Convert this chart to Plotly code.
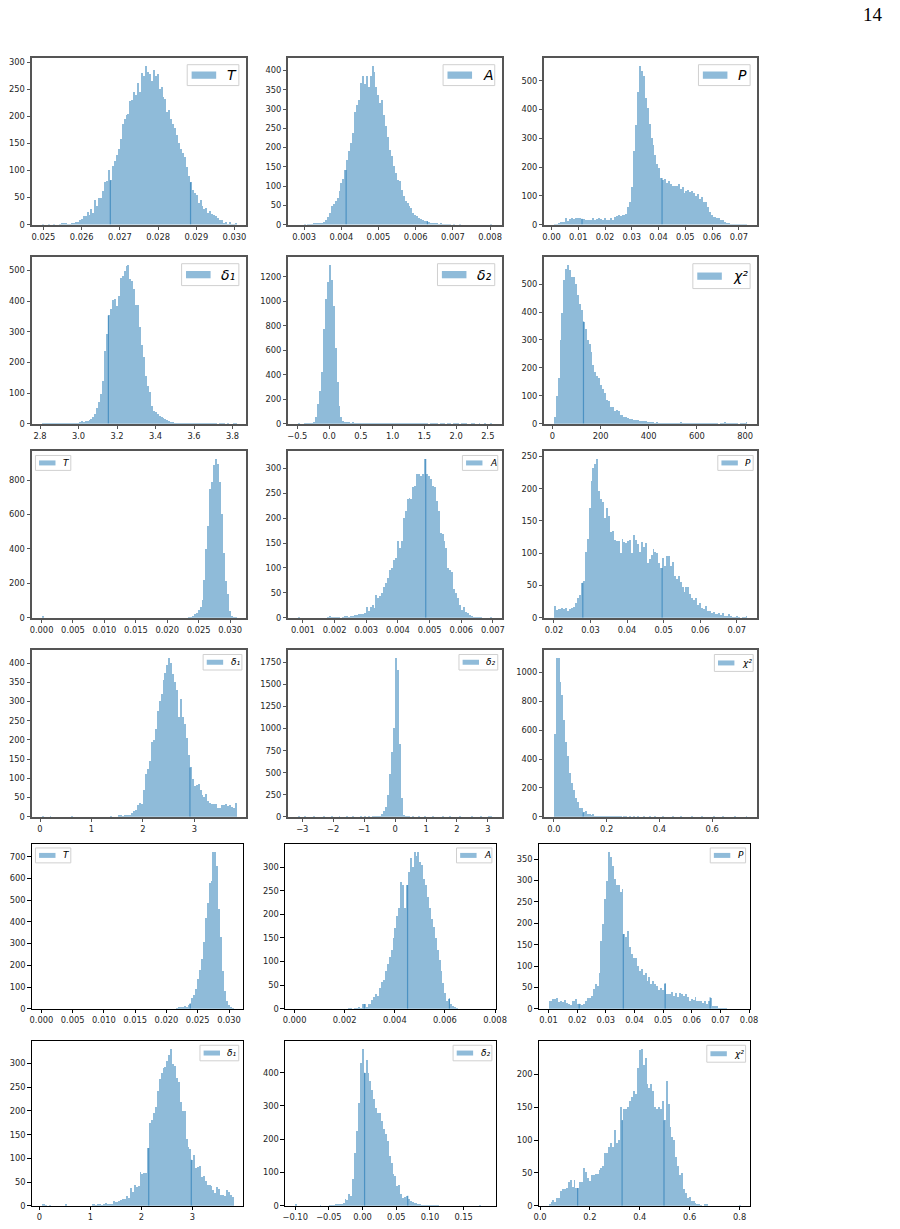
import plotly.graph_objects as go

W, H = 900, 1229

# ------------------------------------------------------------------ data
# counts per histogram bin, (first edge, last edge), marker-line positions
r1_T_counts = [1,0,0,1,0,0,1,0,0,1, 3,3,3,2,2,3,3,4,5,8, 10,16,16,24,17,28,22,45,35,49,
               50,62,78,80,100,82,108,118,128,140, 158,185,195,202,205,228,230,245,240,262,
               245,280,275,293,282,278,265,285,275,278, 250,255,236,232,208,212,195,185,178,165,
               150,140,132,124,106,89,78,64,58,55, 40,45,35,28,30,22,25,20,18,16, 12,8,8,3,5,2,4,2,2,3]
r1_T_span = (0.02495, 0.03005)
r1_T_marks = [0.02675, 0.02885]

r1_A_counts = [0,0,0,1,0,1,1,2,3,3,4,5,4,8, 12,20,29,47,53,60,68,86,109,118,
               142,168,192,211,237,293,311,324,367,386, 365,386,358,386,412,395,358,337,315,324,
               285,255,227,194,177,151,133,116,112,90, 73,60,57,47,42,29,25,22,16,14, 12,10,9,7,5,5,3,
               3,2,3,2,1,1,1,1,0,1, 0,0,1,0,0,0,0,0,0,0, 0,0,0,0,0,0,0,0,1]
r1_A_span = (0.002833, 0.00806)
r1_A_marks = [0.00413, 0.006316]

r1_P_counts = [1,3,5,8,9, 10,22,14,18,22, 18,22,22,22,20, 20,16,17,16,17, 22,16,20,22,18,
               17,22,17,16,22, 17,28,30,32,30, 33,35,36,60,80, 130,255,345,460,551, 535,515,440,405,350,
               300,275,240,210,195, 162, 155,160,145,150,140, 135,135,135,140,125, 130,110,115,120,112,
               115,108,100,105,90, 95,78,80,60,42, 35,28,25,22,24, 15,16,8,5,7, 3,2,1,1,2,1,1,1,1]
r1_P_span = (0.0009, 0.0733)
r1_P_marks = [0.0114, 0.0413]

r2_d1_counts = [2,1,1,1,2,2,1,2,1,2,2,1,2,3,2,2,2,3,2,5, 8,6,10,10,12,
                15,20,32,50,70,97,140,238,293,353, 375,402,407,385,418,475,483,497,516,518,
                473,467,440,386,386,315,255,217,157,124, 102,59,42,37,32,26,21,17,15,13,10,6,4,
                3,2,2,1,2,1,2,1,1,2, 1,1,1,2,1,1,1,1,2,1, 1,1,0,1,1,1,0,1,0,0, 1,1]
r2_d1_span = (2.808, 3.82)
r2_d1_marks = [3.155]

r2_d2_counts = [1,0,0,1,2,3,5,8, 16,52,160,270,420,775,1020,1156,1298,1178,965,616,338,147,52,25,
                14,12,10,8,10,8,6,7,5,6,5,
                4,5,3,4,3,4,3,2,3,3, 2,3,2,2,3,2,2,1,2,2, 1,2,1,1,2,1,1,1,2,1,
                1,1,0,1,1,2,1,0,1,1, 1,0,1,1,0,1,1,1,0,1, 2,1,0,0,1,1,0,0,1,0, 0,1,0,0,1]
r2_d2_span = (-0.491, 2.569)
r2_d2_marks = []

r2_chi_counts = [22,100,165,300,395,515,555,569,550,527, 527,500,462,430,408,366,340,300,285,255,
                 210,185,170,165,140,125,110,85,80,60, 58,45,50,45,30,30,25,22,20,15,
                 18,12,14,12,11,10,8,8,6,5, 7,4,
                 3,4,3,2,3,2,3,3,2,2, 3,2,2,5,2,2,1,2,2,1, 2,1,1,3,1,2,2,1,1,1,
                 1,1,1,0,1,1,4,3,1,1, 1,1,1,0,1,3,2,4]
r2_chi_span = (6.3, 811.0)
r2_chi_marks = [129.0]

r3_T_counts = [12] + [0] * 74 + [2,5,10,18,28,45,60,100,220,400,535,745,790,885,922,895,790,600,
                                 375,210,135,40,12,5,2]
r3_T_span = (0.0, 0.031)
r3_T_marks = []

r3_A_counts = [1] + [0] * 14 + [2,3,2,2,2,1,2,0,2,3, 3,2,4,3,6,5,8,7,8,10, 22,13,22,26,20,45,40,44,50,62,
               70,80,95,100,115,120,155,140,155,200, 215,238,240,238,262,265,288,288,285,288,
               319,288,285,278,265,262,235,215,170,168, 155,140,100,95,92,58,50,40,25,15,
               22,12,10,6,3,2,1,1,2,1] + [0,0,0,0,1]
r3_A_span = (0.00084, 0.00698)
r3_A_marks = [0.004878]

r3_P_counts = [18,12,13,14,15,13,15,10,14,15,16,22,30,35,54,57,
               102,122,170,212,232,238,246,196,184,180,155,170,157,133,135,120,
               119,118,100,122,117,116,118,121,100,128,120,114,101,117,110,115,
               85,91,97,107,101,100,85,77,
               92,80,95,95,80,86,65,60,64,55,48,40,48,47,37,30,
               28,30,20,22,15,13,18,10,10,7,8,5,5,7,4,7,
               3,2,5,2,1,1,2,1,0,1,1,2]
r3_P_span = (0.02, 0.073)
r3_P_marks = [0.0279, 0.0496]

r4_d1_counts = [1,0,0,0,1,0,0,0,0,0, 0,0,0,0,0,1,0,0,0,0, 0,0,0,0,0,0,0,0,0,0,
                0,0,0,0,0,1,0,0,0,3, 4,2,4,3,4,4,
                10,15,18,30,36,33,70,110,125,145, 195,200,228,275,300,320,355,375,395,413,
                400,370,350,330,260,305,258,240,205,160, 128,98,80,82,85,70,55,50,60,40,
                35,34,32,32,22,22,30,30,32,28, 30,24,22,35]
r4_d1_span = (0.03, 3.818)
r4_d1_marks = [2.915]

r4_d2_counts = [2,0,0,1,0,0,0,0,1,0, 0,0,0,1,0,0,0,1,0,0, 0,1,0,0,0,1,0,0,1,0,
                0,0,1,0,1,0,1,0,1,1, 2,3,8,
                25,60,110,240,480,730,1000,1800,1660,820,215,15,
                3,1,1,0,1,0,0,1,0,0, 1,0,0,0,1,0,0,0,0,1, 0,0,0,1,0,0,0,0,1,0,
                0,0,0,0,1,0,0,0,0,1, 0,0,0,1,2]
r4_d2_span = (-3.14159, 3.14159)
r4_d2_marks = []

r4_chi_counts = [575,1100,1100,930,840,670,515,420,305,235, 185,130,100,60,60,30,38,18,18,12, 15,5,
                 4,3,3,2,2,2,1,2,1,1, 1,1,1,0,1,1,0,1,0,1, 0,1,0,0,1,0,0,1,0,0,
                 1,0,0,0,1,0,0,0,0,1, 0,0,0,1,0,0,0,0,0,1, 0,0,0,0,1,0,0,0,0,0,
                 1,0,0,0,0,1,0,0,0,0, 0,1,0,0,0,0,0,1]
r4_chi_span = (0.0, 0.7345)
r4_chi_marks = [0.111]

r5_T_counts = [0] * 66 + [1,2,2,3,5,8,10,12,15,10,20,25,50,65,95,140,180,230,310,420,490,580,590,
                          724,724,660,460,330,175,85,40,20,10,4]
r5_T_span = (0.0, 0.0307)
r5_T_marks = [0.0238]

r5_A_counts = [1] + [0] * 27 + [3,3,1,3,3,5,3,12,10,5, 10,12,20,25,33,28,45,57,62,80,
               95,110,125,150,172,198,215,270,262,215, 262,290,320,300,333,325,333,312,305,275,
               262,238,215,190,175,150,125,105,80,55, 35,18,22,12,7,5,2] + \
              [1,0,0,0,1,0,0,0,0,0,0,0,0,0,1]
r5_A_span = (0.0, 0.00766)
r5_A_marks = [0.002784, 0.00451, 0.00618]

r5_P_counts = [20,20,25,25,27,17,20,17,22,15,13,10,20,20,25,12,12,
               10,13,20,27,27,32,48,58,55,
               85,160,200,258,300,368,355,335,305,290,290,275,282,175,
               170,183,145,130,120,120,100,90,95,80,
               85,65,75,60,65,60,55,45,50,45,
               60,35,35,35,40,30,38,28,38,35,
               30,35,28,20,25,22,28,20,18,20,
               15,20,12,18,27,8,8,8,3,3,
               3,3,3,0,0,0,0,0,0,1]
r5_P_span = (0.0099, 0.0769)
r5_P_marks = [0.0207, 0.0361, 0.0507, 0.0664]

r6_d1_counts = [3,3,1,0,1,0,0,0,0,0, 0,0,3,0,0,0,0,0,0,0, 0,0,0,0,0,0,3,3,2,3, 3,2,3,6,4,5,5,
                10,8,8,10,12,14,14,20,16,38,30,43,40,42,72,68,70,70,
                122,175,182,195,208,242,268,280,290,293,305,318,331,300,295,270,262,218,200,200,
                140,125,120,97,108,80,82,85,60,62,52,43,45,42,33,28,40,35,24,24,20,34,30,22,18]
r6_d1_span = (0.04, 3.806)
r6_d1_marks = [2.145, 2.980]

r6_d2_counts = [7,0,0,0,0,0,0,0,0,0,0,0,0,3,0,0,1,0,3,2,4,5,5,5,6,
                10,20,18,35,30,80,160,225,310,430,472,400,
                440,400,375,348,320,295,280,278,255,230,215,195,150,130,
                95,90,60,62,35,25,28,30,22,15,
                12,8,8,5,5,4,3,3,4,2, 3,4,4,2,0,1,0,0,1,0, 1,1,0,1,0,1,0,0,1,0,
                1,0,0,0,0,3,0,0,1]
r6_d2_span = (-0.101, 0.184)
r6_d2_marks = [0.003, 0.0671]

r6_chi_counts = [3,6,9,6,12,12,23,25,26,27,37,39,28,40,27,27,36,36,57,52,42,38,47,47,48,48,55,57,
                 60,80,80,90,95,90,115,95,
                 100,150,130,148,148,150,160,165,175,170,210,237,239,215,225,185,180,185,175,150,
                 148,150,148,160,130,190,155,120,105,100,75,60,47,50,25,20,12,13,8,7,5,3,3,1,0,3,3] + \
                [0] * 16 + [1]
r6_chi_span = (0.033, 0.8025)
r6_chi_marks = [0.1508, 0.329, 0.497]

# tick values / labels
xt_T1 = [0.025, 0.026, 0.027, 0.028, 0.029, 0.030]
xl_T1 = ["0.025", "0.026", "0.027", "0.028", "0.029", "0.030"]
xt_A1 = [0.003, 0.004, 0.005, 0.006, 0.007, 0.008]
xl_A1 = ["0.003", "0.004", "0.005", "0.006", "0.007", "0.008"]
xt_P1 = [0.0, 0.01, 0.02, 0.03, 0.04, 0.05, 0.06, 0.07]
xl_P1 = ["0.00", "0.01", "0.02", "0.03", "0.04", "0.05", "0.06", "0.07"]
xt_d1a = [2.8, 3.0, 3.2, 3.4, 3.6, 3.8]
xl_d1a = ["2.8", "3.0", "3.2", "3.4", "3.6", "3.8"]
xt_d2a = [-0.5, 0.0, 0.5, 1.0, 1.5, 2.0, 2.5]
xl_d2a = ["\u22120.5", "0.0", "0.5", "1.0", "1.5", "2.0", "2.5"]
xt_chia = [0, 200, 400, 600, 800]
xl_chia = ["0", "200", "400", "600", "800"]
xt_T2 = [0.0, 0.005, 0.010, 0.015, 0.020, 0.025, 0.030]
xl_T2 = ["0.000", "0.005", "0.010", "0.015", "0.020", "0.025", "0.030"]
xt_A3 = [0.001, 0.002, 0.003, 0.004, 0.005, 0.006, 0.007]
xl_A3 = ["0.001", "0.002", "0.003", "0.004", "0.005", "0.006", "0.007"]
xt_P3 = [0.02, 0.03, 0.04, 0.05, 0.06, 0.07]
xl_P3 = ["0.02", "0.03", "0.04", "0.05", "0.06", "0.07"]
xt_d1b = [0, 1, 2, 3]
xl_d1b = ["0", "1", "2", "3"]
xt_d2b = [-3, -2, -1, 0, 1, 2, 3]
xl_d2b = ["\u22123", "\u22122", "\u22121", "0", "1", "2", "3"]
xt_chib = [0.0, 0.2, 0.4, 0.6]
xl_chib = ["0.0", "0.2", "0.4", "0.6"]
xt_A5 = [0.0, 0.002, 0.004, 0.006, 0.008]
xl_A5 = ["0.000", "0.002", "0.004", "0.006", "0.008"]
xt_P5 = [0.01, 0.02, 0.03, 0.04, 0.05, 0.06, 0.07, 0.08]
xl_P5 = ["0.01", "0.02", "0.03", "0.04", "0.05", "0.06", "0.07", "0.08"]
xt_d2c = [-0.10, -0.05, 0.0, 0.05, 0.10, 0.15]
xl_d2c = ["\u22120.10", "\u22120.05", "0.00", "0.05", "0.10", "0.15"]
xt_chic = [0.0, 0.2, 0.4, 0.6, 0.8]
xl_chic = ["0.0", "0.2", "0.4", "0.6", "0.8"]

yt_r1_T = [0, 50, 100, 150, 200, 250, 300]
yt_r1_A = [0, 50, 100, 150, 200, 250, 300, 350, 400]
yt_r1_P = [0, 100, 200, 300, 400, 500]
yt_r2_d1 = [0, 100, 200, 300, 400, 500]
yt_r2_d2 = [0, 200, 400, 600, 800, 1000, 1200]
yt_r2_chi = [0, 100, 200, 300, 400, 500]
yt_r3_T = [0, 200, 400, 600, 800]
yt_r3_A = [0, 50, 100, 150, 200, 250, 300]
yt_r3_P = [0, 50, 100, 150, 200, 250]
yt_r4_d1 = [0, 50, 100, 150, 200, 250, 300, 350, 400]
yt_r4_d2 = [0, 250, 500, 750, 1000, 1250, 1500, 1750]
yt_r4_chi = [0, 200, 400, 600, 800, 1000]
yt_r5_T = [0, 100, 200, 300, 400, 500, 600, 700]
yt_r5_A = [0, 50, 100, 150, 200, 250, 300]
yt_r5_P = [0, 50, 100, 150, 200, 250, 300, 350]
yt_r6_d1 = [0, 50, 100, 150, 200, 250, 300]
yt_r6_d2 = [0, 100, 200, 300, 400]
yt_r6_chi = [0, 50, 100, 150, 200]

lab_T = "T"
lab_A = "A"
lab_P = "P"
lab_d1 = "δ₁"
lab_d2 = "δ₂"
lab_chi = "χ²"

panels = [
    (r1_T_counts, r1_T_span, r1_T_marks, xt_T1, xl_T1, yt_r1_T, lab_T, "T"),
    (r1_A_counts, r1_A_span, r1_A_marks, xt_A1, xl_A1, yt_r1_A, lab_A, "T"),
    (r1_P_counts, r1_P_span, r1_P_marks, xt_P1, xl_P1, yt_r1_P, lab_P, "T"),
    (r2_d1_counts, r2_d1_span, r2_d1_marks, xt_d1a, xl_d1a, yt_r2_d1, lab_d1, "d"),
    (r2_d2_counts, r2_d2_span, r2_d2_marks, xt_d2a, xl_d2a, yt_r2_d2, lab_d2, "d"),
    (r2_chi_counts, r2_chi_span, r2_chi_marks, xt_chia, xl_chia, yt_r2_chi, lab_chi, "c"),
    (r3_T_counts, r3_T_span, r3_T_marks, xt_T2, xl_T2, yt_r3_T, lab_T, "T"),
    (r3_A_counts, r3_A_span, r3_A_marks, xt_A3, xl_A3, yt_r3_A, lab_A, "T"),
    (r3_P_counts, r3_P_span, r3_P_marks, xt_P3, xl_P3, yt_r3_P, lab_P, "T"),
    (r4_d1_counts, r4_d1_span, r4_d1_marks, xt_d1b, xl_d1b, yt_r4_d1, lab_d1, "d"),
    (r4_d2_counts, r4_d2_span, r4_d2_marks, xt_d2b, xl_d2b, yt_r4_d2, lab_d2, "d"),
    (r4_chi_counts, r4_chi_span, r4_chi_marks, xt_chib, xl_chib, yt_r4_chi, lab_chi, "c"),
    (r5_T_counts, r5_T_span, r5_T_marks, xt_T2, xl_T2, yt_r5_T, lab_T, "T"),
    (r5_A_counts, r5_A_span, r5_A_marks, xt_A5, xl_A5, yt_r5_A, lab_A, "T"),
    (r5_P_counts, r5_P_span, r5_P_marks, xt_P5, xl_P5, yt_r5_P, lab_P, "T"),
    (r6_d1_counts, r6_d1_span, r6_d1_marks, xt_d1b, xl_d1b, yt_r6_d1, lab_d1, "d"),
    (r6_d2_counts, r6_d2_span, r6_d2_marks, xt_d2c, xl_d2c, yt_r6_d2, lab_d2, "d"),
    (r6_chi_counts, r6_chi_span, r6_chi_marks, xt_chic, xl_chic, yt_r6_chi, lab_chi, "c"),
]

# ------------------------------------------------------------------ layout (pixels)
rows_px = [(57.3, 224.7), (257.3, 424.7), (452.3, 619.7), (652.3, 819.7), (846.7, 1012.7), (1045.0, 1210.7)]
cols_a = [(27.3, 245.5), (288.3, 506.0), (549.0, 766.0)]
cols_b = [(27.3, 242.3), (285.0, 500.0), (543.3, 758.3)]

BAR = "rgba(31,119,180,0.5)"
MARK = "rgba(31,119,180,0.6)"
FONT = "DejaVu Sans"

fig = go.Figure()
shapes, annotations = [], []


def px_x(v):
    return v / W


def px_y(v):
    return 1 - v / H


for k, (counts, span, marks, xt, xl, yt, lab, kind) in enumerate(panels):
    r, c = divmod(k, 3)
    top, bot = rows_px[r]
    left, right = (cols_a if r < 4 else cols_b)[c]
    frame = ("#555555", 1.5) if r < 4 else ("#000000", 1.0)
    n = len(counts)
    lo, hi = span
    w = (hi - lo) / n
    centers = [lo + w * (i + 0.5) for i in range(n)]
    sfx = "" if k == 0 else str(k + 1)

    fig.add_trace(go.Bar(x=centers, y=counts, width=w, marker=dict(color=BAR, line=dict(width=0)),
                         xaxis="x" + sfx, yaxis="y" + sfx, hoverinfo="skip", showlegend=False))
    if marks:
        mx, my = [], []
        for m in marks:
            idx = min(max(int((m - lo) / w), 0), n - 1)
            mx += [m, m, None]
            my += [0, counts[idx], None]
        fig.add_trace(go.Scatter(x=mx, y=my, mode="lines", line=dict(color=MARK, width=1.2),
                                 xaxis="x" + sfx, yaxis="y" + sfx, hoverinfo="skip", showlegend=False))

    span_w = hi - lo
    common = dict(showline=True, mirror=True, linecolor=frame[0], linewidth=frame[1], ticks="outside",
                  ticklen=3.5, tickwidth=0.8, tickcolor=frame[0], showgrid=False, zeroline=False,
                  tickfont=dict(family=FONT, size=8.3, color="#262626"), fixedrange=True)
    fig.layout["xaxis" + sfx] = dict(domain=[px_x(left), px_x(right)], anchor="y" + sfx,
                                     range=[lo - 0.05 * span_w, hi + 0.05 * span_w],
                                     tickmode="array", tickvals=xt, ticktext=xl, tickangle=0, **common)
    fig.layout["yaxis" + sfx] = dict(domain=[px_y(bot), px_y(top)], anchor="x" + sfx,
                                     range=[0, 1.05 * max(counts)], tickmode="array", tickvals=yt,
                                     ticktext=[str(v) for v in yt], **common)

    # ---- legend (drawn by hand)
    big = r < 2
    if big:
        bw = 52.6 if kind == "T" else 58.3
        bh = {"T": 21.0, "d": 22.0, "c": 25.0}[kind]
        padx, pady, pdx, pw, ph, gap, fs = 7.4, 6.7, 4.5, 25.0, 7.3, 9.0, 14
    else:
        bw = 36.0 if kind == "T" else 39.5
        bh = {"T": 15.0, "d": 15.6, "c": 17.0}[kind]
        padx, pady, pdx, pw, ph, gap, fs = 4.3, 4.4, 3.7, 16.7, 5.0, 5.5, 9
    upper_left = (lab == lab_T and r in (2, 4))
    if upper_left:
        bx0 = left + padx - 0.6
    else:
        bx0 = right - padx - bw
    by0 = top + pady
    shapes.append(dict(type="rect", xref="paper", yref="paper", x0=px_x(bx0), x1=px_x(bx0 + bw),
                       y0=px_y(by0 + bh), y1=px_y(by0), line=dict(color="#d0d0d0", width=1),
                       fillcolor="rgba(255,255,255,0.8)", layer="above"))
    cy = by0 + bh / 2
    shapes.append(dict(type="rect", xref="paper", yref="paper", x0=px_x(bx0 + pdx), x1=px_x(bx0 + pdx + pw),
                       y0=px_y(cy + ph / 2), y1=px_y(cy - ph / 2), line=dict(width=0),
                       fillcolor=BAR, layer="above"))
    annotations.append(dict(xref="paper", yref="paper", x=px_x(bx0 + pdx + pw + gap), y=px_y(cy),
                            xanchor="left", yanchor="middle", showarrow=False, text=lab,
                            font=dict(family=FONT, size=fs, color="#000000", style="italic")))

annotations.append(dict(xref="paper", yref="paper", x=px_x(884), y=px_y(14), xanchor="center",
                        yanchor="middle", showarrow=False, text="14",
                        font=dict(family="Liberation Serif", size=19, color="#000000")))

fig.update_layout(width=W, height=H, margin=dict(l=0, r=0, t=0, b=0), paper_bgcolor="white",
                  plot_bgcolor="white", showlegend=False, bargap=0, shapes=shapes,
                  annotations=annotations)

fig.write_html("out.html")
